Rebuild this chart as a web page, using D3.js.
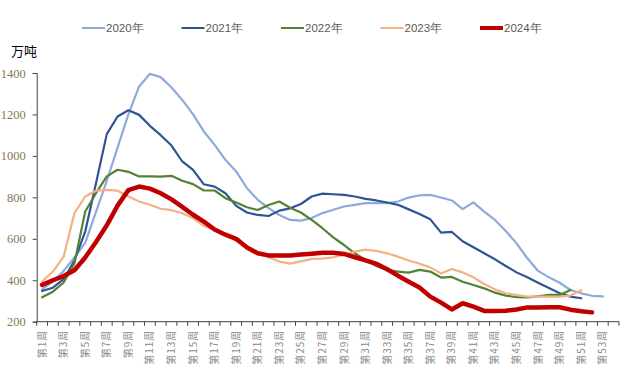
<!DOCTYPE html>
<html>
<head>
<meta charset="utf-8">
<script src="https://cdn.jsdelivr.net/npm/d3@7"></script>
<style>
  body { margin: 0; background: #fff; }
  svg { display: block; }
</style>
</head>
<body>
<div id="chart"></div>
<script>
// weekly categories (54 slots, every second one labelled)
var weeks = ["第1周","第2周","第3周","第4周","第5周","第6周","第7周","第8周","第9周","第10周",
   "第11周","第12周","第13周","第14周","第15周","第16周","第17周","第18周","第19周","第20周",
   "第21周","第22周","第23周","第24周","第25周","第26周","第27周","第28周","第29周","第30周",
   "第31周","第32周","第33周","第34周","第35周","第36周","第37周","第38周","第39周","第40周",
   "第41周","第42周","第43周","第44周","第45周","第46周","第47周","第48周","第49周","第50周",
   "第51周","第52周","第53周","第54周"];

var yTicks = [200, 400, 600, 800, 1000, 1200, 1400];
var seriesNames = ["2020年", "2021年", "2022年", "2023年", "2024年"];

var s2020 = [356, 395, 445, 510, 580, 730, 880, 1040, 1200, 1335, 1396, 1380, 1330, 1270, 1200, 1118, 1053, 981, 925, 844,
   788, 748, 715, 691, 688, 700, 724, 740, 756, 764, 772, 772, 772, 780, 799, 810, 812, 799, 785, 743,
   776, 731, 691, 638, 578, 506, 445, 414, 388, 353, 337, 325, 322];
var s2021 = [348, 364, 405, 495, 635, 868, 1105, 1190, 1220, 1198, 1145, 1100, 1050, 973, 933, 863, 852, 820, 759, 727,
   715, 710, 736, 747, 768, 804, 818, 815, 812, 804, 793, 785, 775, 764, 742, 720, 694, 630, 633, 588,
   559, 530, 501, 469, 438, 414, 388, 363, 337, 321, 313];
var s2022 = [318, 345, 389, 482, 732, 820, 901, 933, 923, 901, 901, 900, 904, 880, 864, 833, 833, 796, 775, 752,
   739, 763, 780, 750, 727, 691, 651, 607, 570, 530, 498, 469, 450, 442, 437, 450, 442, 413, 416, 393,
   377, 361, 340, 326, 318, 317, 322, 329, 329, 353];
var s2023 = [394, 442, 514, 724, 804, 832, 836, 832, 804, 780, 764, 745, 738, 723, 699, 662, 643, 619, 591, 554,
   527, 511, 490, 480, 491, 503, 504, 511, 522, 538, 548, 541, 530, 514, 495, 480, 462, 433, 454, 438,
   414, 382, 356, 337, 329, 321, 321, 321, 321, 326, 352];
var s2024 = [378, 400, 420, 448, 510, 585, 665, 760, 835, 852, 842, 820, 790, 754, 716, 683, 645, 620, 600, 558,
   530, 520, 519, 519, 524, 528, 533, 533, 527, 511, 496, 479, 453, 422, 393, 365, 321, 292, 259, 289,
   273, 252, 252, 253, 259, 269, 268, 270, 270, 258, 250, 245];

var colors = ["#8eaadc", "#2f5496", "#538135", "#f4b183", "#c00000"];
var widths = [2.2, 2.2, 2.2, 2.2, 4.5];
var allSeries = [s2020, s2021, s2022, s2023, s2024];

const width = 622, height = 370;
const plotLeft = 36.7, plotRight = 619, plotTop = 73, plotBottom = 321.7;

const svg = d3.select("#chart").append("svg")
   .attr("width", width)
   .attr("height", height);

const x = d3.scaleBand()
   .domain(weeks)
   .range([plotLeft, plotRight])
   .padding(0);

const y = d3.scaleLinear()
   .domain([200, 1400])
   .range([plotBottom, plotTop]);

// y axis
const yAxis = svg.append("g")
   .attr("transform", "translate(" + plotLeft + ",0)")
   .call(d3.axisLeft(y).tickValues(yTicks).tickSize(4).tickPadding(7).tickFormat(d3.format("d")));
yAxis.select(".domain").attr("stroke", "#404040");
yAxis.selectAll(".tick line").attr("stroke", "#404040");
yAxis.selectAll("text")
   .attr("fill", "#8a7658")
   .style("font-family", "'Liberation Serif', 'Times New Roman', serif")
   .style("font-size", "12.5px");

// x axis: tick at every category boundary
const xAxis = svg.append("g")
   .attr("transform", "translate(0," + plotBottom + ")");
xAxis.append("line")
   .attr("x1", plotLeft).attr("x2", plotRight)
   .attr("stroke", "#404040");
xAxis.selectAll(".xtick")
   .data(weeks.concat(["end"]))
   .join("line")
   .attr("class", "xtick")
   .attr("x1", (d, i) => i < weeks.length ? x(d) : plotRight)
   .attr("x2", (d, i) => i < weeks.length ? x(d) : plotRight)
   .attr("y1", 0).attr("y2", 4)
   .attr("stroke", "#404040");
xAxis.selectAll(".xlabel")
   .data(weeks.filter((d, i) => i % 2 == 0))
   .join("text")
   .attr("class", "xlabel")
   .attr("transform", d => "translate(" + (x(d) + x.bandwidth() / 2 + 3.5) + ",8) rotate(-90)")
   .attr("text-anchor", "end")
   .attr("fill", "#8c8c8c")
   .style("font-family", "'Noto Sans CJK SC', sans-serif")
   .style("font-size", "10px")
   .style("letter-spacing", "1px")
   .text(d => d);

// lines
const line = d3.line()
   .x((d, i) => x(weeks[i]) + x.bandwidth() / 2)
   .y(d => y(d));

svg.selectAll(".series")
   .data(allSeries)
   .join("path")
   .attr("class", "series")
   .attr("fill", "none")
   .attr("stroke", (d, i) => colors[i])
   .attr("stroke-width", (d, i) => widths[i])
   .attr("stroke-linejoin", "round")
   .attr("stroke-linecap", "round")
   .attr("d", d => line(d));

// unit
svg.append("text")
   .attr("x", 11).attr("y", 56)
   .style("font-family", "'Noto Sans CJK SC', sans-serif")
   .style("font-size", "13px")
   .attr("fill", "#000")
   .text("万吨");

// legend
const legend = svg.selectAll(".legend")
   .data(seriesNames)
   .join("g")
   .attr("class", "legend")
   .attr("transform", (d, i) => "translate(" + (82 + i * 99.5) + ",28)");
legend.append("line")
   .attr("x1", 0).attr("x2", 23)
   .attr("stroke", (d, i) => colors[i])
   .attr("stroke-width", (d, i) => i == 4 ? 4 : 2);
legend.append("text")
   .attr("x", 24).attr("y", 4)
   .attr("fill", "#595959")
   .style("font-family", "'Liberation Sans', Arial, sans-serif")
   .style("font-size", "11.5px")
   .text(d => d);
</script>
</body>
</html>
